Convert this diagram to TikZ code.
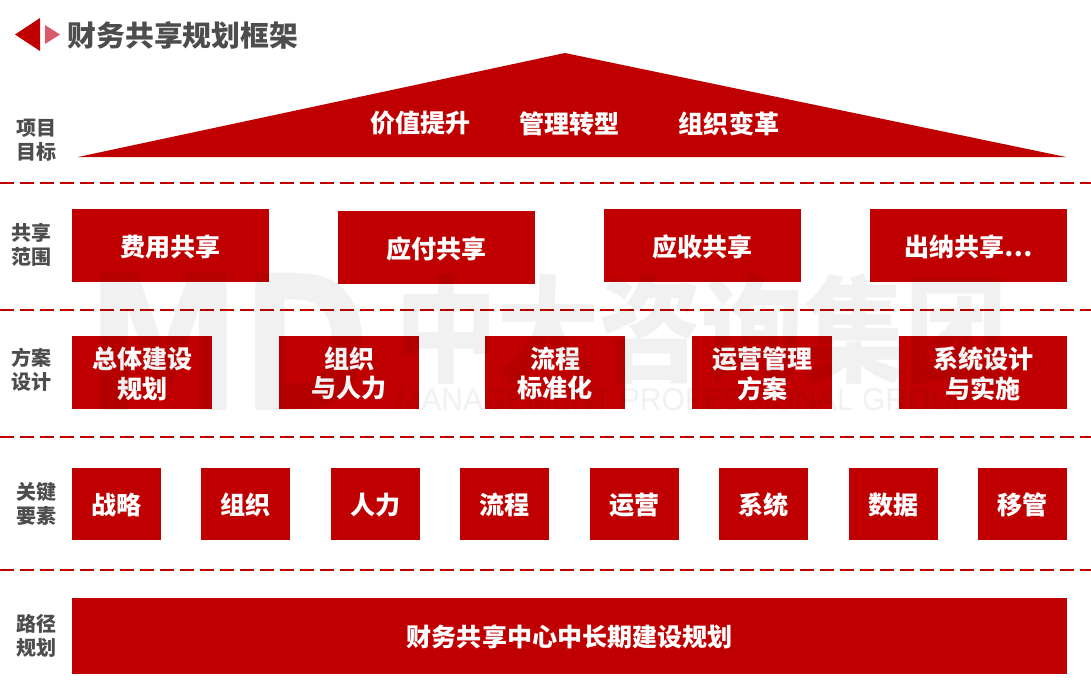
\documentclass[tikz,border=0pt]{standalone}
\usepackage{fontspec}
\usepackage{graphicx}
\setmainfont{Noto Sans CJK SC}
\newfontfamily\latinwm{DejaVu Sans}
\newfontfamily\latinthin{Liberation Sans}
\definecolor{mainred}{HTML}{C00000}
\definecolor{pinkred}{HTML}{D95B69}
\definecolor{labelgray}{HTML}{4D4D4D}
\tikzset{
  redbox/.style={fill=mainred,inner sep=0pt},
  boxtext/.style={text=white,inner sep=0pt,yshift=-0.75pt,font=\fontsize{18.8pt}{22pt}\selectfont\bfseries,align=center},
  sidelabel/.style={text=labelgray,inner sep=0pt,font=\fontsize{15pt}{18pt}\selectfont\bfseries,align=center},
  goaltext/.style={text=white,inner sep=0pt,font=\fontsize{18.8pt}{23pt}\selectfont\bfseries},
  sepline/.style={draw=mainred,line width=1.4pt,dash pattern=on 10.5pt off 4.5pt},
  wm/.style={inner sep=0pt,text=black,text opacity=0.055},
}
\newcommand{\rbox}[6]{\node[redbox,minimum width=#3*0.75pt,minimum height=#4*0.75pt,anchor=north west] (#5) at (#1,#2) {};
  \node[boxtext] (#5t) at (#5.center) {#6};}
\begin{document}
\begin{tikzpicture}[x=0.75pt,y=-0.75pt]
\useasboundingbox (0,0) rectangle (1091,687);
% header
\fill[mainred] (15,34.5) -- (40,18) -- (40,51) -- cycle;
\fill[pinkred] (45,25) -- (60,34.5) -- (45,44) -- cycle;
\node[text=labelgray,inner sep=0pt,anchor=west,font=\fontsize{21.6pt}{26pt}\selectfont\bfseries] (title) at (67.5,35.5) {财务共享规划框架};
% roof
\fill[mainred] (78,157) -- (565,53) -- (1066,157) -- cycle;
\node[goaltext] (g1) at (420.7,123.5) {价值提升};
\node[goaltext] (g2) at (569.7,123.5) {管理转型};
\node[goaltext] (g3) at (729,123.5) {组织变革};
% side labels
\node[sidelabel] (s1) at (36.5,140) {项目\\目标};
\node[sidelabel] (s2) at (31.5,245) {共享\\范围};
\node[sidelabel] (s3) at (31.5,370) {方案\\设计};
\node[sidelabel] (s4) at (36.5,503.5) {关键\\要素};
\node[sidelabel] (s5) at (36.5,636) {路径\\规划};
% separators
\foreach \n/\y in {a/183,b/310,c/437,d/570}{
  \coordinate (l\n) at (0,\y);
  \coordinate (r\n) at (1091,\y);
  \draw[sepline] (l\n) -- (r\n);
}
% row 1
\rbox{72}{209}{197}{73}{sc1}{费用共享}
\rbox{338}{211}{197}{73}{sc2}{应付共享}
\rbox{604}{209}{197}{73}{sc3}{应收共享}
\rbox{870}{209}{197}{73}{sc4}{出纳共享…}
% row 2
\rbox{72}{336}{140}{73}{d1}{总体建设\\规划}
\rbox{279}{336}{140}{73}{d2}{组织\\与人力}
\rbox{485}{336}{140}{73}{d3}{流程\\标准化}
\rbox{692}{336}{140}{73}{d4}{运营管理\\方案}
\rbox{899}{336}{168}{73}{d5}{系统设计\\与实施}
% row 3
\rbox{72}{468}{89}{72}{k1}{战略}
\rbox{201}{468}{89}{72}{k2}{组织}
\rbox{331}{468}{89}{72}{k3}{人力}
\rbox{460}{468}{89}{72}{k4}{流程}
\rbox{590}{468}{89}{72}{k5}{运营}
\rbox{719}{468}{88.5}{72}{k6}{系统}
\rbox{849}{468}{88.5}{72}{k7}{数据}
\rbox{978}{468}{89}{72}{k8}{移管}
% row 4
\rbox{72}{598}{995}{76}{p1}{财务共享中心中长期建设规划}
% watermark
\node[wm,anchor=north west] (wm1) at (86,273) {\resizebox{213pt}{103pt}{\latinwm\bfseries MD}};
\node[wm,anchor=north west] (wm2) at (395,273) {\resizebox{459pt}{75pt}{\bfseries 中大咨询集团}};
\node[wm,anchor=north west] (wm3) at (396,388) {\resizebox{432pt}{16.5pt}{\latinthin MANAGEMENT PROFESSIONAL GROUP}};
\end{tikzpicture}
\end{document}
